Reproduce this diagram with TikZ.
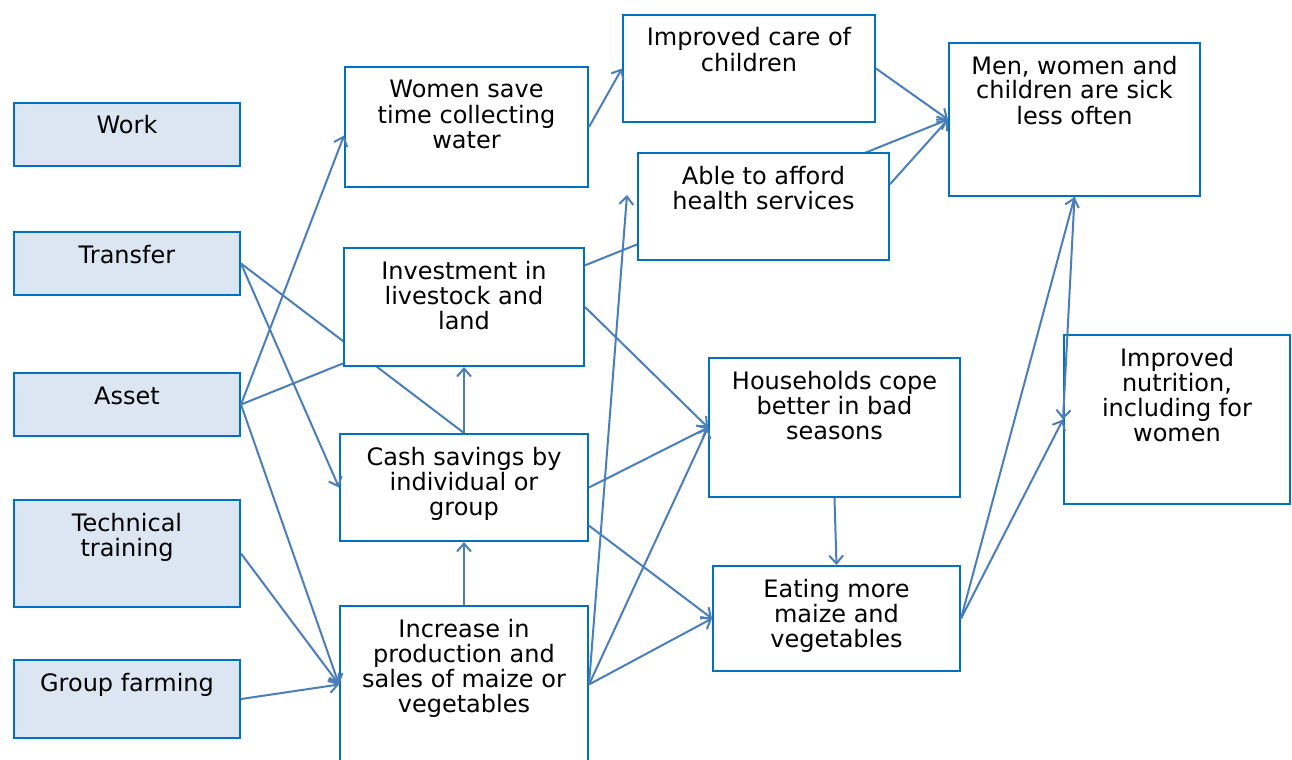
\documentclass[tikz,border=0pt]{standalone}
\usepackage{fontspec}
\setmainfont{DejaVu Sans}
\usetikzlibrary{arrows.meta,backgrounds}

\definecolor{boxblue}{HTML}{0070C0}
\definecolor{inblue}{HTML}{DCE6F2}
\definecolor{linkblue}{HTML}{4A7EBB}

\newlength{\px}
\setlength{\px}{0.5pt}
\newcommand{\boxtext}[3]{\parbox[c][#2\px][t]{#1\px}{\centering\rule{0pt}{15.5pt}#3}}

\tikzset{
	inbox/.style={draw=boxblue, line width=1pt, fill=inblue, anchor=north west, inner sep=0pt},
	outbox/.style={draw=boxblue, line width=1pt, fill=white, anchor=north west, inner sep=0pt},
	link/.style={draw=linkblue, line width=1pt},
	>={Straight Barb[length=4pt,width=7pt]}
}

\begin{document}
\begin{tikzpicture}[x=0.5pt,y=-0.5pt,font=\fontsize{12}{12.5}\selectfont]
		\useasboundingbox (0,0) rectangle (1292,760);

		% Programme components
		\node[inbox] (work) at (13,102) {\boxtext{226}{63}{Work}};
		\node[inbox] (transfer) at (13,231) {\boxtext{226}{63}{Transfer}};
		\node[inbox] (asset) at (13,372) {\boxtext{226}{63}{Asset}};
		\node[inbox] (tech) at (13,499) {\boxtext{226}{107}{Technical\\training}};
		\node[inbox] (group) at (13,659) {\boxtext{226}{78}{Group farming}};

		% First effects
		\node[outbox] (women) at (344,66) {\boxtext{243}{120}{Women save\\time collecting\\water}};
		\node[outbox] (invest) at (343,247) {\boxtext{240}{118}{Investment in\\livestock and\\land}};
		\node[outbox] (cash) at (339,433) {\boxtext{248}{107}{Cash savings by\\individual or\\group}};
		\node[outbox] (incr) at (339,605) {\boxtext{248}{157}{Increase in\\production and\\sales of maize or\\vegetables}};

		% Later effects
		\node[outbox] (care) at (622,14) {\boxtext{252}{107}{Improved care of\\children}};
		\node[outbox] (able) at (637,152) {\boxtext{251}{107}{Able to afford\\health services}};
		\node[outbox] (cope) at (708,357) {\boxtext{251}{139}{Households cope\\better in bad\\seasons}};
		\node[outbox] (eat) at (712,565) {\boxtext{247}{105}{Eating more\\maize and\\vegetables}};

		% Outcomes
		\node[outbox] (sick) at (948,42) {\boxtext{251}{153}{Men, women and\\children are sick\\less often}};
		\node[outbox] (nutr) at (1063,334) {\boxtext{226}{169}{Improved\\nutrition,\\including for\\women}};

		\coordinate (ableIn) at (627,195);

		% Links running behind boxes
		\begin{scope}[on background layer]
		\draw[link] (transfer.east) -- (cash.north);
		\draw[link,->] (invest.19) -- (sick.west);
		\end{scope}

		% From the components
		\draw[link,->] (transfer.east) -- (cash.west);
		\draw[link,->] (asset.east) -- (women.184);
		\draw[link] (asset.east) -- (invest.205);
		\draw[link,->] (asset.east) -- (incr.west);
		\draw[link,->] (tech.east) -- (incr.west);
		\draw[link,->] (group.east) -- (incr.west);

		% Between first effects
		\draw[link,->] (cash.north) -- (invest.south);
		\draw[link,->] (incr.north) -- (cash.south);

		% Towards later effects
		\draw[link,->] (women.east) -- (care.west);
		\draw[link,->] (incr.east) -- (ableIn);
		\draw[link,->] (invest.east) -- (cope.west);
		\draw[link,->] (cash.east) -- (cope.west);
		\draw[link,->] (incr.east) -- (cope.west);
		\draw[link,->] (cash.343) -- (eat.west);
		\draw[link,->] (incr.east) -- (eat.west);
		\draw[link,->] (cope.south) -- (eat.north);

		% Towards outcomes
		\draw[link,->] (care.east) -- (sick.west);
		\draw[link,->] (able.10.6) -- (sick.west);
		\draw[link,->] (eat.east) -- (sick.south);
		\draw[link,->] (eat.east) -- (nutr.west);
		\draw[link,->] (sick.south) -- (nutr.west);
\end{tikzpicture}
\end{document}
